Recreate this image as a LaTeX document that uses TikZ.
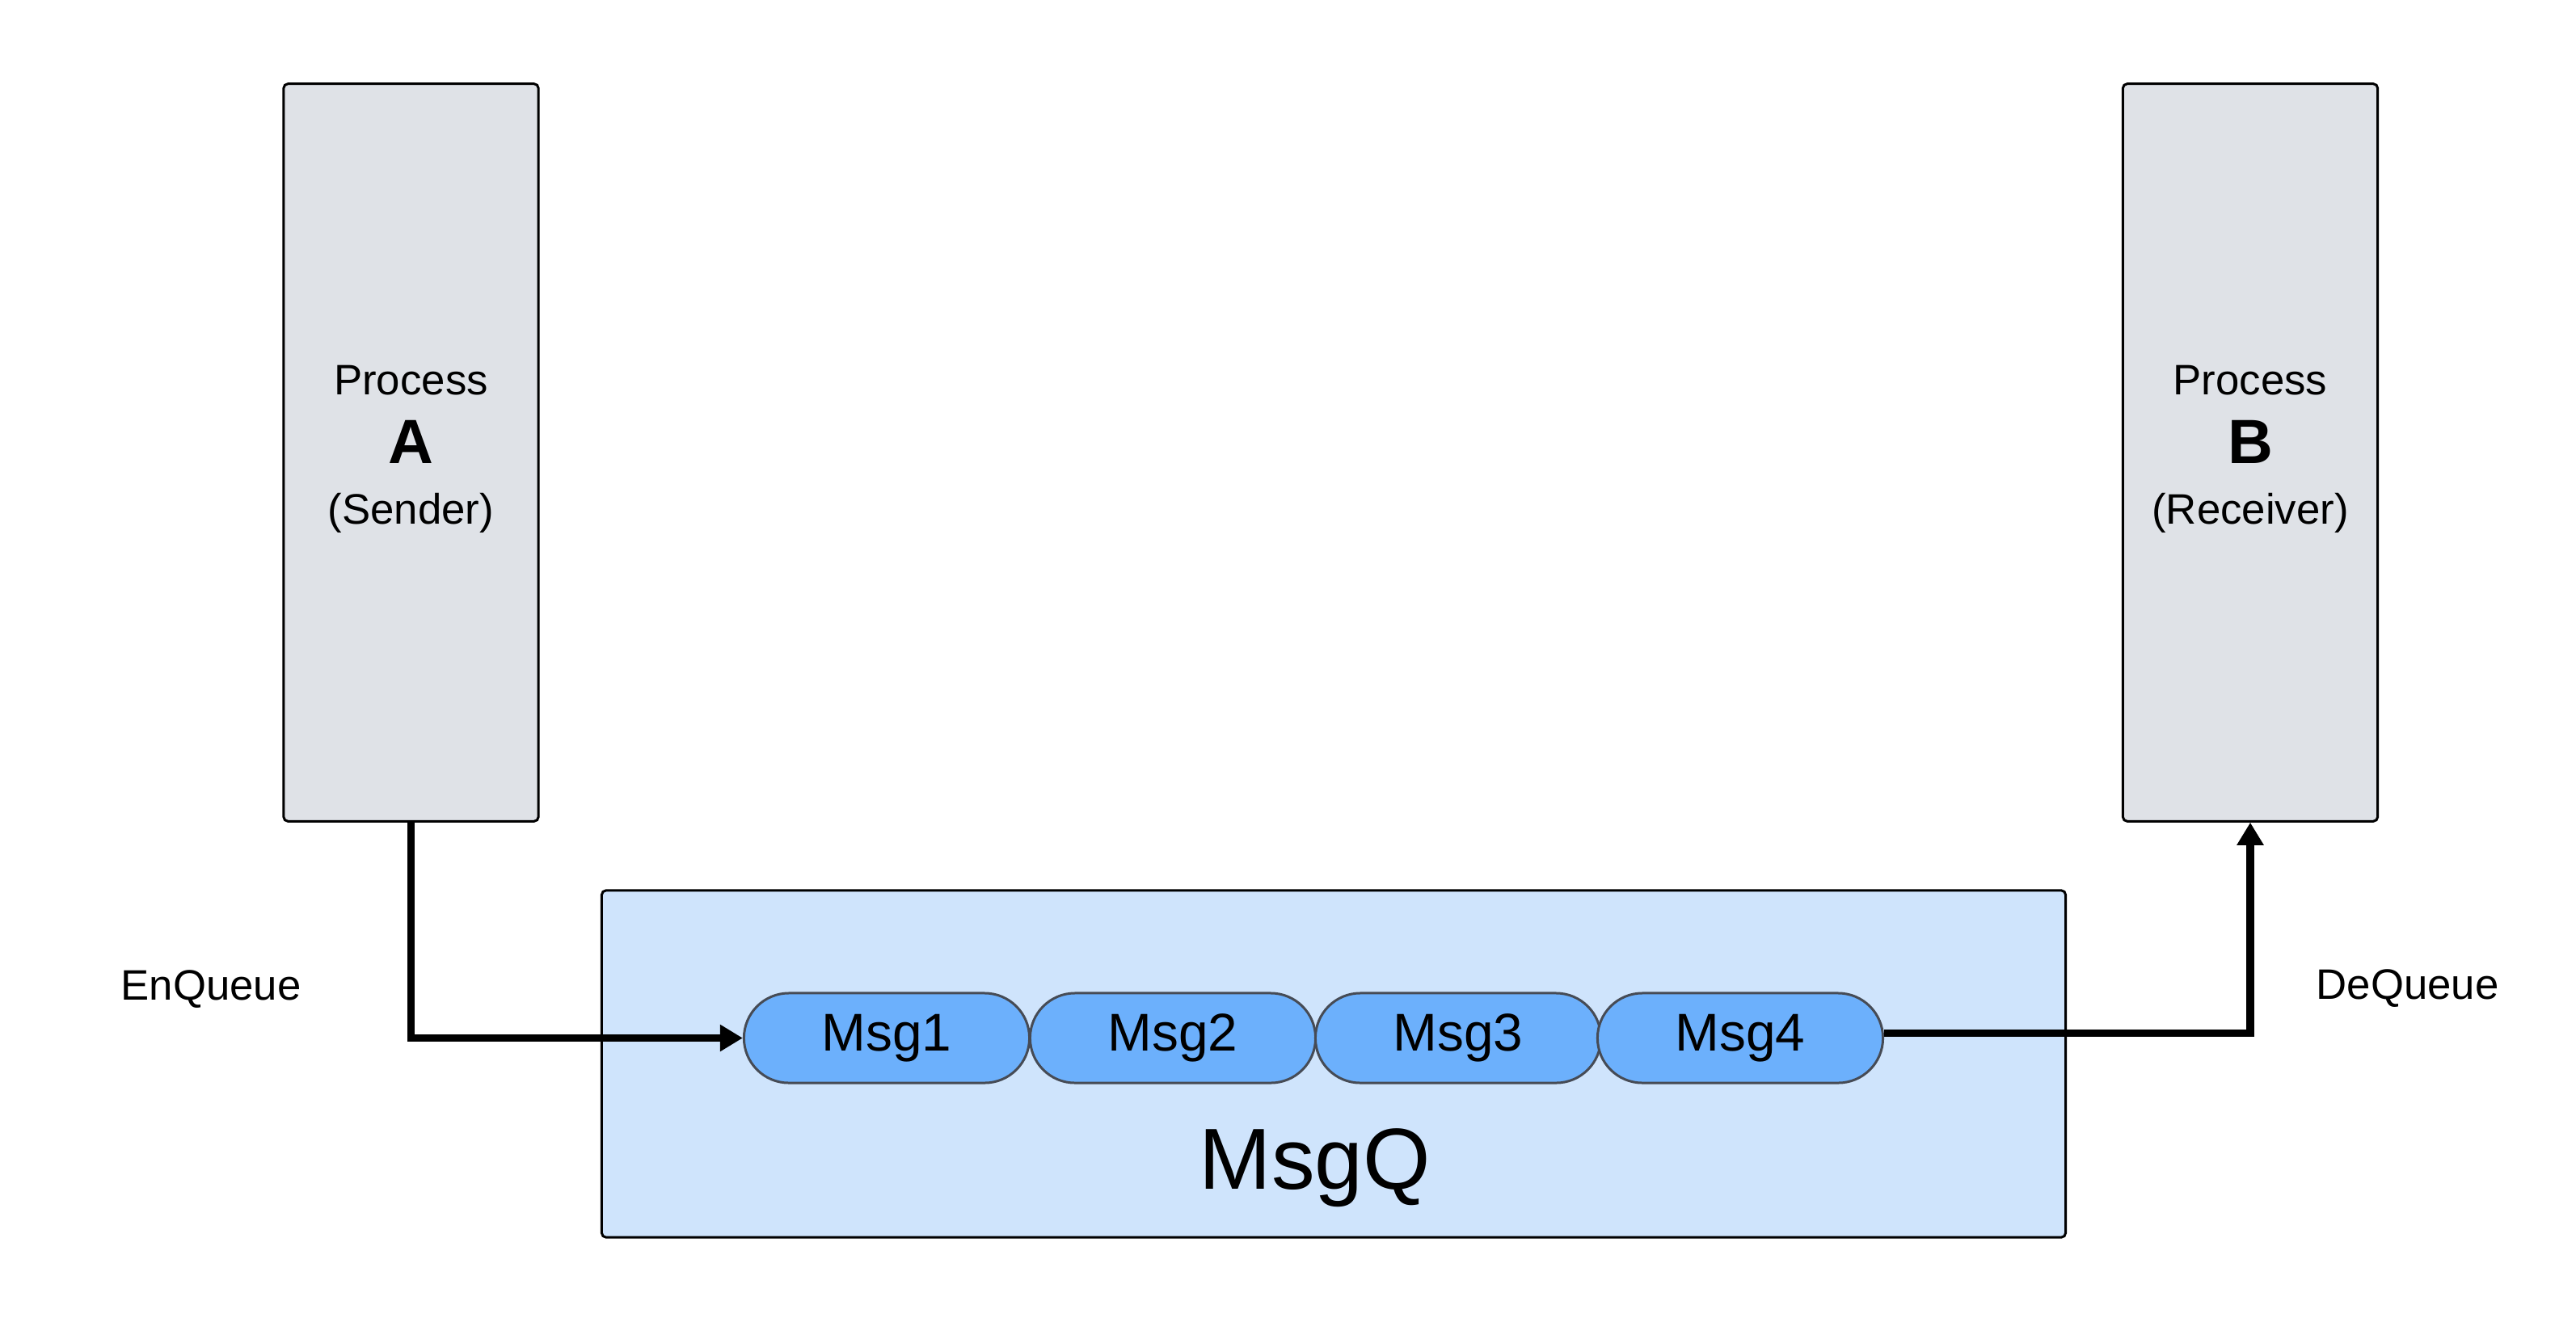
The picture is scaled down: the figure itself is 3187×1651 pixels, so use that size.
\documentclass[tikz,border=0pt]{standalone}
\usepackage{fontspec}
\setmainfont{Liberation Sans}
\usetikzlibrary{shapes.misc,arrows.meta,positioning}
\definecolor{procgray}{RGB}{223,226,231}
\definecolor{queueblue}{RGB}{207,228,252}
\definecolor{msgblue}{RGB}{108,176,252}
\definecolor{msgedge}{RGB}{70,75,85}

\tikzset{
  procbox/.style={draw=black, line width=0.85pt, fill=procgray, rounded corners=1.5pt,
    minimum width=3.15cm, minimum height=9.12cm, inner sep=0pt},
  queuebox/.style={draw=black, line width=0.85pt, fill=queueblue, rounded corners=1.5pt,
    minimum width=18.1cm, minimum height=4.29cm, inner sep=0pt},
  msgpill/.style={rounded rectangle, draw=msgedge, line width=0.85pt, fill=msgblue,
    minimum width=3.53cm, minimum height=1.11cm, inner sep=0pt,
    font=\fontsize{18.7}{22}\selectfont},
  smalltxt/.style={anchor=base, inner sep=0pt, font=\fontsize{15}{18}\selectfont},
  bigletter/.style={anchor=base, inner sep=0pt, font=\fontsize{22}{26}\selectfont\bfseries},
  flow/.style={line width=2.6pt, -{Triangle[length=8pt,width=9pt]}}
}

\begin{document}
\begin{tikzpicture}[x=0.01cm, y=-0.01cm]
\useasboundingbox (0,0) rectangle (3187,1651);

% Processes
\node[procbox] (procA) at (508.5,560) {};
\node[smalltxt] (procAname) at (508.5,488) {Process};
\node[bigletter] (procAletter) at (508.5,573) {A};
\node[smalltxt] (procArole) at (508.5,648) {(Sender)};

\node[procbox] (procB) at (2784,560) {};
\node[smalltxt] (procBname) at (2784,488) {Process};
\node[bigletter] (procBletter) at (2784,573) {B};
\node[smalltxt] (procBrole) at (2784,648) {(Receiver)};

% Message queue
\node[queuebox] (msgq) at (1650,1316.5) {};
\node[anchor=base, inner sep=0pt, font=\fontsize{30.5}{35}\selectfont] (msgqlabel) at (1627,1471) {MsgQ};
\foreach \i/\x in {1/1097, 2/1451, 3/1804, 4/2153} {
    \node[msgpill] (msg\i) at (\x,1284.5) {Msg\i};
}

% Operations
\node[smalltxt] (enq) at (261,1237) {EnQueue};
\node[smalltxt] (deq) at (2978.5,1236) {DeQueue};

\draw[flow] (procA.south) |- (msg1.west);
\draw[flow] ([yshift=1.8pt]msg4.east) -| (procB.south);

\end{tikzpicture}
\end{document}
